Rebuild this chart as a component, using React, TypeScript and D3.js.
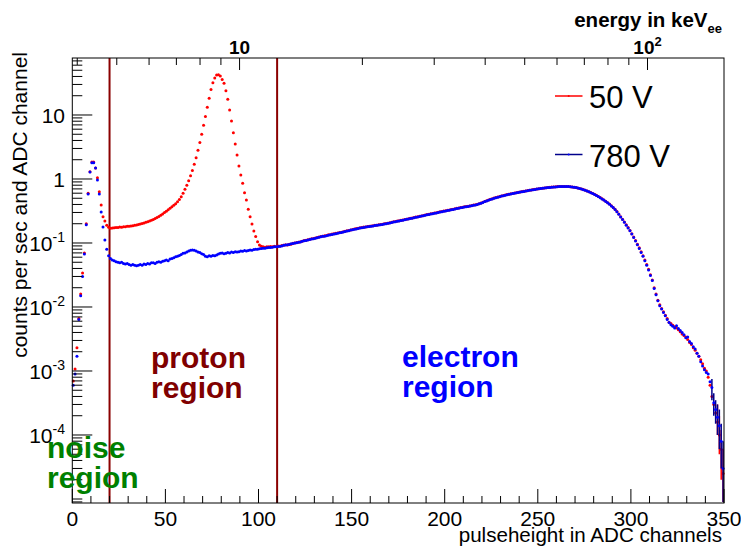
import React from "react";
import * as d3 from "d3";

// ---------------- data ----------------
// counts per sec and ADC channel, one value per channel 0..349
const blue780: number[] = [
  0.0006, 0.0009, 0.0017, 0.0064, 0.015, 0.03, 0.067, 0.193, 0.583, 1.29,
  1.8, 1.8, 1.49, 0.965, 0.583, 0.305, 0.178, 0.111, 0.08, 0.063,
  0.057, 0.054, 0.053, 0.051, 0.05, 0.049, 0.05, 0.048, 0.047, 0.048,
  0.046, 0.045, 0.046, 0.045, 0.044, 0.045, 0.046, 0.045, 0.047, 0.046,
  0.048, 0.047, 0.049, 0.049, 0.048, 0.05, 0.051, 0.05, 0.052, 0.053,
  0.054, 0.053, 0.056, 0.057, 0.059, 0.061, 0.062, 0.064, 0.066, 0.069,
  0.07, 0.072, 0.075, 0.077, 0.078, 0.077, 0.075, 0.072, 0.071, 0.068,
  0.066, 0.062, 0.061, 0.063, 0.062, 0.064, 0.063, 0.065, 0.067, 0.069,
  0.07, 0.068, 0.069, 0.071, 0.07, 0.072, 0.071, 0.073, 0.072, 0.073,
  0.075, 0.074, 0.076, 0.075, 0.076, 0.078, 0.077, 0.079, 0.08, 0.08,
  0.081, 0.082, 0.083, 0.083, 0.084, 0.085, 0.085, 0.086, 0.087, 0.087,
  0.088, 0.089, 0.09, 0.092, 0.093, 0.094, 0.095, 0.097, 0.098, 0.1,
  0.101, 0.103, 0.104, 0.106, 0.108, 0.109, 0.111, 0.113, 0.115, 0.117,
  0.119, 0.121, 0.123, 0.125, 0.127, 0.128, 0.13, 0.132, 0.134, 0.136,
  0.138, 0.14, 0.142, 0.144, 0.146, 0.149, 0.151, 0.154, 0.156, 0.159,
  0.161, 0.164, 0.166, 0.169, 0.171, 0.173, 0.175, 0.177, 0.179, 0.181,
  0.183, 0.185, 0.187, 0.189, 0.191, 0.193, 0.195, 0.198, 0.2, 0.203,
  0.206, 0.209, 0.212, 0.215, 0.218, 0.221, 0.224, 0.227, 0.23, 0.234,
  0.237, 0.241, 0.244, 0.248, 0.252, 0.255, 0.259, 0.263, 0.267, 0.271,
  0.275, 0.279, 0.283, 0.287, 0.291, 0.295, 0.3, 0.304, 0.308, 0.313,
  0.317, 0.322, 0.326, 0.331, 0.335, 0.34, 0.345, 0.35, 0.354, 0.359,
  0.364, 0.368, 0.372, 0.377, 0.382, 0.388, 0.394, 0.401, 0.409, 0.417,
  0.43, 0.443, 0.455, 0.467, 0.478, 0.489, 0.5, 0.51, 0.52, 0.53,
  0.54, 0.549, 0.558, 0.567, 0.576, 0.584, 0.592, 0.6, 0.608, 0.616,
  0.624, 0.632, 0.64, 0.648, 0.656, 0.664, 0.672, 0.68, 0.688, 0.695,
  0.702, 0.709, 0.716, 0.722, 0.728, 0.734, 0.739, 0.744, 0.749, 0.753,
  0.757, 0.76, 0.762, 0.763, 0.763, 0.762, 0.76, 0.756, 0.75, 0.742,
  0.733, 0.722, 0.71, 0.696, 0.681, 0.665, 0.648, 0.63, 0.611, 0.592,
  0.572, 0.552, 0.531, 0.51, 0.489, 0.468, 0.446, 0.424, 0.402, 0.38,
  0.358, 0.333, 0.307, 0.281, 0.255, 0.232, 0.21, 0.19, 0.172, 0.155,
  0.138, 0.122, 0.107, 0.094, 0.082, 0.071, 0.062, 0.053, 0.045, 0.038,
  0.031, 0.026, 0.0195, 0.0155, 0.0125, 0.0105, 0.0093, 0.0082, 0.0073, 0.0064,
  0.0057, 0.0053, 0.005, 0.0047, 0.0051, 0.0046, 0.0043, 0.004, 0.0037, 0.0033,
  0.0034, 0.0029, 0.0027, 0.0024, 0.0022, 0.0019, 0.0017, 0.0014, 0.0012, 0.00105,
  0.00095, 0.0009, 0.00068, 0.00055, 0.00032, 0.00025, 0.00019, 0.00014, 0.00008, 0.00003,
];

const red50: number[] = [
  0.0007, 0.00107, 0.0023, 0.0066, 0.016, 0.034, 0.07, 0.2, 0.6, 1.3,
  1.84, 1.84, 1.49, 1.05, 0.633, 0.392, 0.257, 0.22, 0.189, 0.176,
  0.17, 0.171, 0.173, 0.174, 0.175, 0.177, 0.176, 0.179, 0.18, 0.182,
  0.183, 0.185, 0.186, 0.189, 0.191, 0.194, 0.198, 0.202, 0.206, 0.21,
  0.215, 0.22, 0.226, 0.233, 0.241, 0.25, 0.26, 0.272, 0.285, 0.299,
  0.313, 0.33, 0.348, 0.368, 0.39, 0.41, 0.44, 0.48, 0.53, 0.6,
  0.69, 0.8, 0.94, 1.12, 1.36, 1.7, 2.15, 2.8, 3.7, 5.0,
  6.9, 9.5, 13.2, 18.3, 25, 32, 38, 42, 42.5, 40.5,
  36, 31.3, 24, 17.6, 12, 8.06, 5.29, 3.52, 2.37, 1.6,
  1.15, 0.857, 0.61, 0.47, 0.336, 0.258, 0.198, 0.154, 0.126, 0.105,
  0.093, 0.089, 0.087, 0.086, 0.087, 0.087, 0.088, 0.087, 0.089, 0.088,
  0.09, 0.089, 0.091, 0.092, 0.094, 0.093, 0.096, 0.096, 0.099, 0.1,
  0.102, 0.103, 0.105, 0.106, 0.109, 0.11, 0.112, 0.114, 0.116, 0.118,
  0.12, 0.122, 0.124, 0.126, 0.128, 0.13, 0.131, 0.134, 0.135, 0.138,
  0.139, 0.142, 0.143, 0.146, 0.147, 0.15, 0.152, 0.155, 0.157, 0.16,
  0.163, 0.165, 0.168, 0.17, 0.173, 0.174, 0.177, 0.178, 0.181, 0.182,
  0.185, 0.186, 0.189, 0.19, 0.193, 0.194, 0.197, 0.199, 0.202, 0.204,
  0.208, 0.21, 0.214, 0.216, 0.22, 0.223, 0.226, 0.229, 0.232, 0.236,
  0.239, 0.243, 0.246, 0.25, 0.254, 0.257, 0.261, 0.265, 0.269, 0.273,
  0.278, 0.281, 0.286, 0.289, 0.294, 0.298, 0.302, 0.307, 0.311, 0.316,
  0.32, 0.325, 0.329, 0.334, 0.338, 0.343, 0.348, 0.353, 0.357, 0.362,
  0.367, 0.371, 0.375, 0.38, 0.385, 0.391, 0.397, 0.404, 0.412, 0.42,
  0.433, 0.446, 0.458, 0.47, 0.481, 0.492, 0.503, 0.513, 0.523, 0.533,
  0.543, 0.552, 0.561, 0.57, 0.579, 0.587, 0.595, 0.603, 0.611, 0.619,
  0.627, 0.635, 0.643, 0.651, 0.659, 0.667, 0.675, 0.683, 0.691, 0.698,
  0.705, 0.712, 0.719, 0.725, 0.731, 0.737, 0.742, 0.747, 0.752, 0.756,
  0.76, 0.763, 0.765, 0.766, 0.766, 0.765, 0.763, 0.759, 0.753, 0.745,
  0.736, 0.725, 0.713, 0.699, 0.684, 0.668, 0.651, 0.633, 0.614, 0.595,
  0.575, 0.555, 0.534, 0.513, 0.492, 0.471, 0.449, 0.427, 0.405, 0.383,
  0.36, 0.336, 0.31, 0.284, 0.258, 0.234, 0.212, 0.192, 0.174, 0.157,
  0.14, 0.124, 0.109, 0.096, 0.084, 0.073, 0.063, 0.054, 0.046, 0.039,
  0.032, 0.0265, 0.02, 0.016, 0.0128, 0.0108, 0.0095, 0.0084, 0.0074, 0.0066,
  0.0058, 0.0055, 0.0052, 0.0049, 0.0047, 0.0044, 0.0041, 0.0038, 0.0036, 0.0034,
  0.0031, 0.0028, 0.0026, 0.0023, 0.0021, 0.0019, 0.0017, 0.0015, 0.0013, 0.0011,
  0.001, 0.0008, 0.0006, 0.0004, 0.0003, 0.00022, 0.00016, 0.0001, 0.00006, 0.000025,
];

// error bars drawn at the low-statistics tail
const blueErrCh: number[] = [343, 344, 345, 346, 347, 348, 349];
const blueErrLo: number[] = [0.00035, 0.0002, 0.00015, 0.0001, 0.00006, 0.00003, 0.000009];
const blueErrHi: number[] = [0.00075, 0.00045, 0.00035, 0.0003, 0.00025, 0.00015, 0.00008];
const redErrCh: number[] = [346, 347, 348, 349];
const redErrLo: number[] = [0.0001, 0.00005, 0.00002, 0.000009];
const redErrHi: number[] = [0.0003, 0.0002, 0.00012, 0.00006];

const regionCuts: number[] = [20, 110];
const xTickValues: number[] = d3.range(0, 351, 10);
const xLabelValues: number[] = [0, 50, 100, 150, 200, 250, 300, 350];
const yLabelExps: number[] = [1, 0, -1, -2, -3, -4];
const topLabelExps: number[] = [1, 2];
const legendLabels: string[] = ["50 V", "780 V"];

// ---------------- layout ----------------
const W = 741;
const H = 549;
const L = 72.3, R = 724, T = 58, B = 503;
const Y_MIN = 8.66e-6, Y_MAX = 77.7;
const E_MIN = 3.89, E_MAX = 154;
const FONT = "'Liberation Sans', Arial, Helvetica, sans-serif";

export default function App() {
  const x = d3.scaleLinear().domain([0, 350]).range([L, R]);
  const y = d3.scaleLog().domain([Y_MIN, Y_MAX]).range([B, T]);
  const xe = d3.scaleLog().domain([E_MIN, E_MAX]).range([L, R]);

  const cy = (v: number) => y(Math.max(Y_MIN, Math.min(Y_MAX, v)));

  const yTicks: { v: number; major: boolean }[] = [];
  for (let e = -6; e <= 2; e++) {
    for (let k = 1; k <= 9; k++) {
      const v = k * Math.pow(10, e);
      if (v >= Y_MIN && v <= Y_MAX) yTicks.push({ v, major: k === 1 && e >= -4 });
    }
  }
  const eTicks: { v: number; major: boolean }[] = [];
  for (let e = 0; e <= 2; e++) {
    for (let k = 1; k <= 9; k++) {
      const v = k * Math.pow(10, e);
      if (v >= E_MIN && v <= E_MAX) eTicks.push({ v, major: k === 1 });
    }
  }

  const legendColors = ["#ff0000", "#00008b"];
  const legendY = [96, 154.5];

  return (
    <div style={{ position: "fixed", left: 0, top: 0, width: W, height: H, background: "#fff" }}>
      <svg width={W} height={H} style={{ display: "block" }} fontFamily={FONT}>
        <rect x={0} y={0} width={W} height={H} fill="#fff" />

        {/* region cut lines */}
        {regionCuts.map((c) => (
          <line key={c} x1={x(c)} x2={x(c)} y1={T} y2={B} stroke="#8b0000" strokeWidth={2} />
        ))}

        {/* error bars */}
        {redErrCh.map((c, i) => (
          <line key={"re" + c} x1={x(c + 0.5)} x2={x(c + 0.5)} y1={cy(redErrLo[i])} y2={cy(redErrHi[i])} stroke="#ff0000" strokeWidth={1.5} />
        ))}
        {/* data points */}
        {red50.map((v, i) => (
          <circle key={"r" + i} cx={x(i + 0.5)} cy={cy(v)} r={1.5} fill="#ff0000" />
        ))}
        {blueErrCh.map((c, i) => (
          <line key={"be" + c} x1={x(c + 0.5)} x2={x(c + 0.5)} y1={cy(blueErrLo[i])} y2={cy(blueErrHi[i])} stroke="#00008b" strokeWidth={1.5} />
        ))}
        {blue780.map((v, i) => (
          <circle key={"b" + i} cx={x(i + 0.5)} cy={cy(v)} r={1.5} fill="#0000ff" />
        ))}

        {/* frame */}
        <rect x={L} y={T} width={R - L} height={B - T} fill="none" stroke="#000" strokeWidth={1} />

        {/* bottom axis ticks */}
        {xTickValues.map((v) => (
          <line key={"xt" + v} x1={x(v)} x2={x(v)} y1={B} y2={B - (v % 50 === 0 ? 14 : 7)} stroke="#000" />
        ))}
        {xLabelValues.map((v) => (
          <text key={"xl" + v} x={x(v)} y={525.5} fontSize={21} textAnchor="middle" fill="#000">
            {v}
          </text>
        ))}
        <text x={722} y={542} fontSize={20.6} textAnchor="end" fill="#000">
          pulseheight in ADC channels
        </text>

        {/* left axis ticks */}
        {yTicks.map((t, i) => (
          <line key={"yt" + i} x1={L} x2={L + (t.major ? 20 : 10)} y1={y(t.v)} y2={y(t.v)} stroke="#000" />
        ))}
        {yLabelExps.map((e) => (
          <text key={"yl" + e} x={65} y={y(Math.pow(10, e)) + 8} fontSize={21} textAnchor="end" fill="#000">
            {e === 0 ? "1" : e === 1 ? "10" : (
              <>
                <tspan>10</tspan>
                <tspan fontSize={14} dy={-9}>{String(e)}</tspan>
              </>
            )}
          </text>
        ))}
        <text transform={`translate(27,52) rotate(-90)`} fontSize={21} textAnchor="end" fill="#000">
          counts per sec and ADC channel
        </text>

        {/* top axis */}
        {eTicks.map((t, i) => (
          <line key={"et" + i} x1={xe(t.v)} x2={xe(t.v)} y1={T} y2={T + (t.major ? 12 : 7)} stroke="#000" />
        ))}
        {topLabelExps.map((e) => (
          <text key={"el" + e} x={xe(Math.pow(10, e))} y={54} fontSize={19} fontWeight="bold" textAnchor="middle" fill="#000">
            {e === 1 ? "10" : (
              <>
                <tspan>10</tspan>
                <tspan fontSize={13} dy={-8}>{String(e)}</tspan>
              </>
            )}
          </text>
        ))}
        <text x={722} y={27} fontSize={20.5} fontWeight="bold" textAnchor="end" fill="#000">
          energy in keV<tspan fontSize={13} dy={6}>ee</tspan>
        </text>

        {/* legend */}
        {legendLabels.map((lab, i) => (
          <g key={lab}>
            <line x1={555} x2={582.5} y1={legendY[i]} y2={legendY[i]} stroke={legendColors[i]} strokeWidth={1.5} />
            <circle cx={568.7} cy={legendY[i]} r={1} fill={i === 0 ? "#ff0000" : "#0000ff"} />
            <text x={589} y={legendY[i] + 12} fontSize={31} fill="#000">{lab}</text>
          </g>
        ))}

        {/* region labels */}
        <g fontSize={30} fontWeight="bold">
          <text x={151} y={368} fill="#800000">proton</text>
          <text x={151} y={398} fill="#800000">region</text>
          <text x={402} y={367} fill="#0000ff">electron</text>
          <text x={402} y={397} fill="#0000ff">region</text>
          <text x={47} y={458} fill="#008000">noise</text>
          <text x={47} y={488} fill="#008000">region</text>
        </g>
      </svg>
    </div>
  );
}
